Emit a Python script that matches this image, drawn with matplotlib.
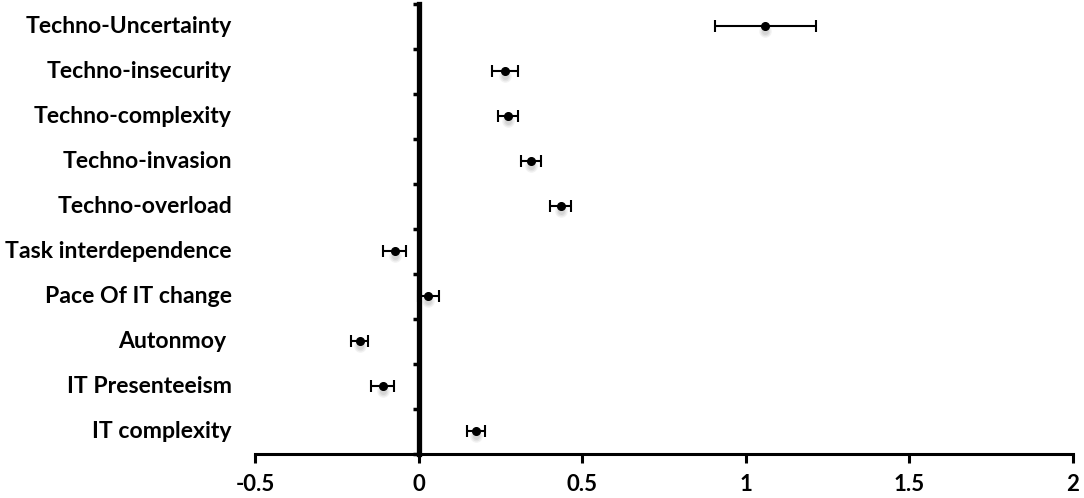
import matplotlib
matplotlib.use("Agg")
import matplotlib.pyplot as plt
import matplotlib.transforms as mtransforms
import numpy as np

# values
categories = ["Techno-Uncertainty", "Techno-insecurity", "Techno-complexity",
              "Techno-invasion", "Techno-overload", "Task interdependence",
              "Pace Of IT change", "Autonmoy ", "IT Presenteeism", "IT complexity"]
estimates = [1.06, 0.265, 0.273, 0.343, 0.435, -0.073, 0.030, -0.180, -0.110, 0.175]
errors = [0.155, 0.040, 0.030, 0.031, 0.032, 0.036, 0.032, 0.025, 0.035, 0.027]
x_ticks = [-0.5, 0, 0.5, 1, 1.5, 2]
x_tick_labels = ["-0.5", "0", "0.5", "1", "1.5", "2"]

FONT = "Lato"

fig = plt.figure(figsize=(10.84, 4.98), dpi=100)
ax = fig.add_axes([0.2352, 0.0884, 0.7547, 0.9036])

ypos = np.arange(len(categories)) + 0.5

# soft shadow under each dot
for dy, ms, a in [(-5, 9, 0.10), (-5, 7, 0.12), (-5, 5, 0.15)]:
    shadow = mtransforms.offset_copy(ax.transData, fig=fig, x=0, y=dy, units="dots")
    ax.plot(estimates, ypos, "o", color="#808080", markersize=ms, alpha=a,
            markeredgewidth=0, transform=shadow, zorder=2)

ax.errorbar(estimates, ypos, xerr=errors, fmt="o", color="black", ecolor="black",
            markersize=5.5, elinewidth=1.5, capsize=4, capthick=1.5, zorder=3)

ax.set_xlim(-0.5, 2)
ax.set_ylim(len(categories), 0)

ax.spines["top"].set_visible(False)
ax.spines["right"].set_visible(False)
ax.spines["left"].set_position(("data", 0))
ax.spines["left"].set_linewidth(3.8)
ax.spines["left"].set_zorder(4)
ax.spines["bottom"].set_linewidth(2.2)

ax.set_xticks(x_ticks)
ax.set_xticklabels(x_tick_labels, fontsize=16, fontweight="bold", family=FONT)
ax.tick_params(axis="x", direction="out", length=6.5, width=2.2, pad=8)

ax.set_yticks(np.arange(len(categories) + 1))
ax.set_yticklabels([])
ax.tick_params(axis="y", direction="out", length=4, width=2.5)

label_tf = mtransforms.blended_transform_factory(fig.transFigure, ax.transData)
for name, y in zip(categories, ypos):
    ax.text(232 / 1084, y, name, transform=label_tf, ha="right", va="center",
            fontsize=16.6, fontweight="bold", family=FONT)

fig.savefig("out.png", dpi=100)
